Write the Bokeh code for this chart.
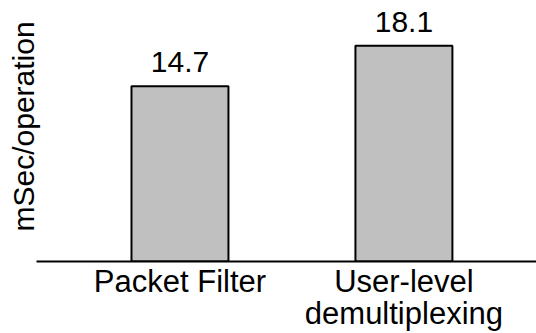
import math
from bokeh.plotting import figure
from bokeh.models import Range1d, FixedTicker, Title, ColumnDataSource
from bokeh.core.properties import value
from bokeh.embed import file_html
from bokeh.resources import INLINE

categories = ["Packet Filter", "User-level\ndemultiplexing"]
values = [14.7, 18.1]
value_labels = ["14.7", "18.1"]
y_label = "mSec/operation"

FONT = "Liberation Sans"

xs = [i + 0.5 for i in range(len(categories))]
src = ColumnDataSource(dict(x=xs, top=values, label=value_labels))

p = figure(width=536, height=333, output_backend="svg", toolbar_location=None,
           x_range=Range1d(-0.1406, 2.092), y_range=Range1d(0, 21.9),
           y_axis_location=None,
           min_border_left=36, min_border_right=0, min_border_top=0,
           min_border_bottom=70)
p.outline_line_color = None
p.grid.visible = False
p.background_fill_color = "white"
p.border_fill_color = "white"

p.vbar(x="x", top="top", width=0.433, bottom=0, source=src,
       fill_color="#c0c0c0", line_color="black", line_width=2)
p.text(x="x", y="top", text="label", source=src, text_align="center",
       text_baseline="alphabetic", y_offset=-24, text_font=value(FONT),
       text_font_size="30px", text_color="black")

ax = p.xaxis[0]
ax.ticker = FixedTicker(ticks=xs)
ax.major_label_overrides = {x: c for x, c in zip(xs, categories)}
ax.major_tick_line_color = None
ax.minor_tick_line_color = None
ax.axis_line_color = "black"
ax.axis_line_width = 2
ax.major_label_text_font = FONT
ax.major_label_text_font_size = "31px"
ax.major_label_text_color = "black"
ax.major_label_text_line_height = 0.92
ax.major_label_standoff = -4

p.add_layout(Title(text=y_label, align="left", offset=30, standoff=-6,
                   text_font=FONT, text_font_size="30px",
                   text_font_style="normal", text_color="black"), "left")

open("out.html", "w").write(file_html(p, INLINE))
